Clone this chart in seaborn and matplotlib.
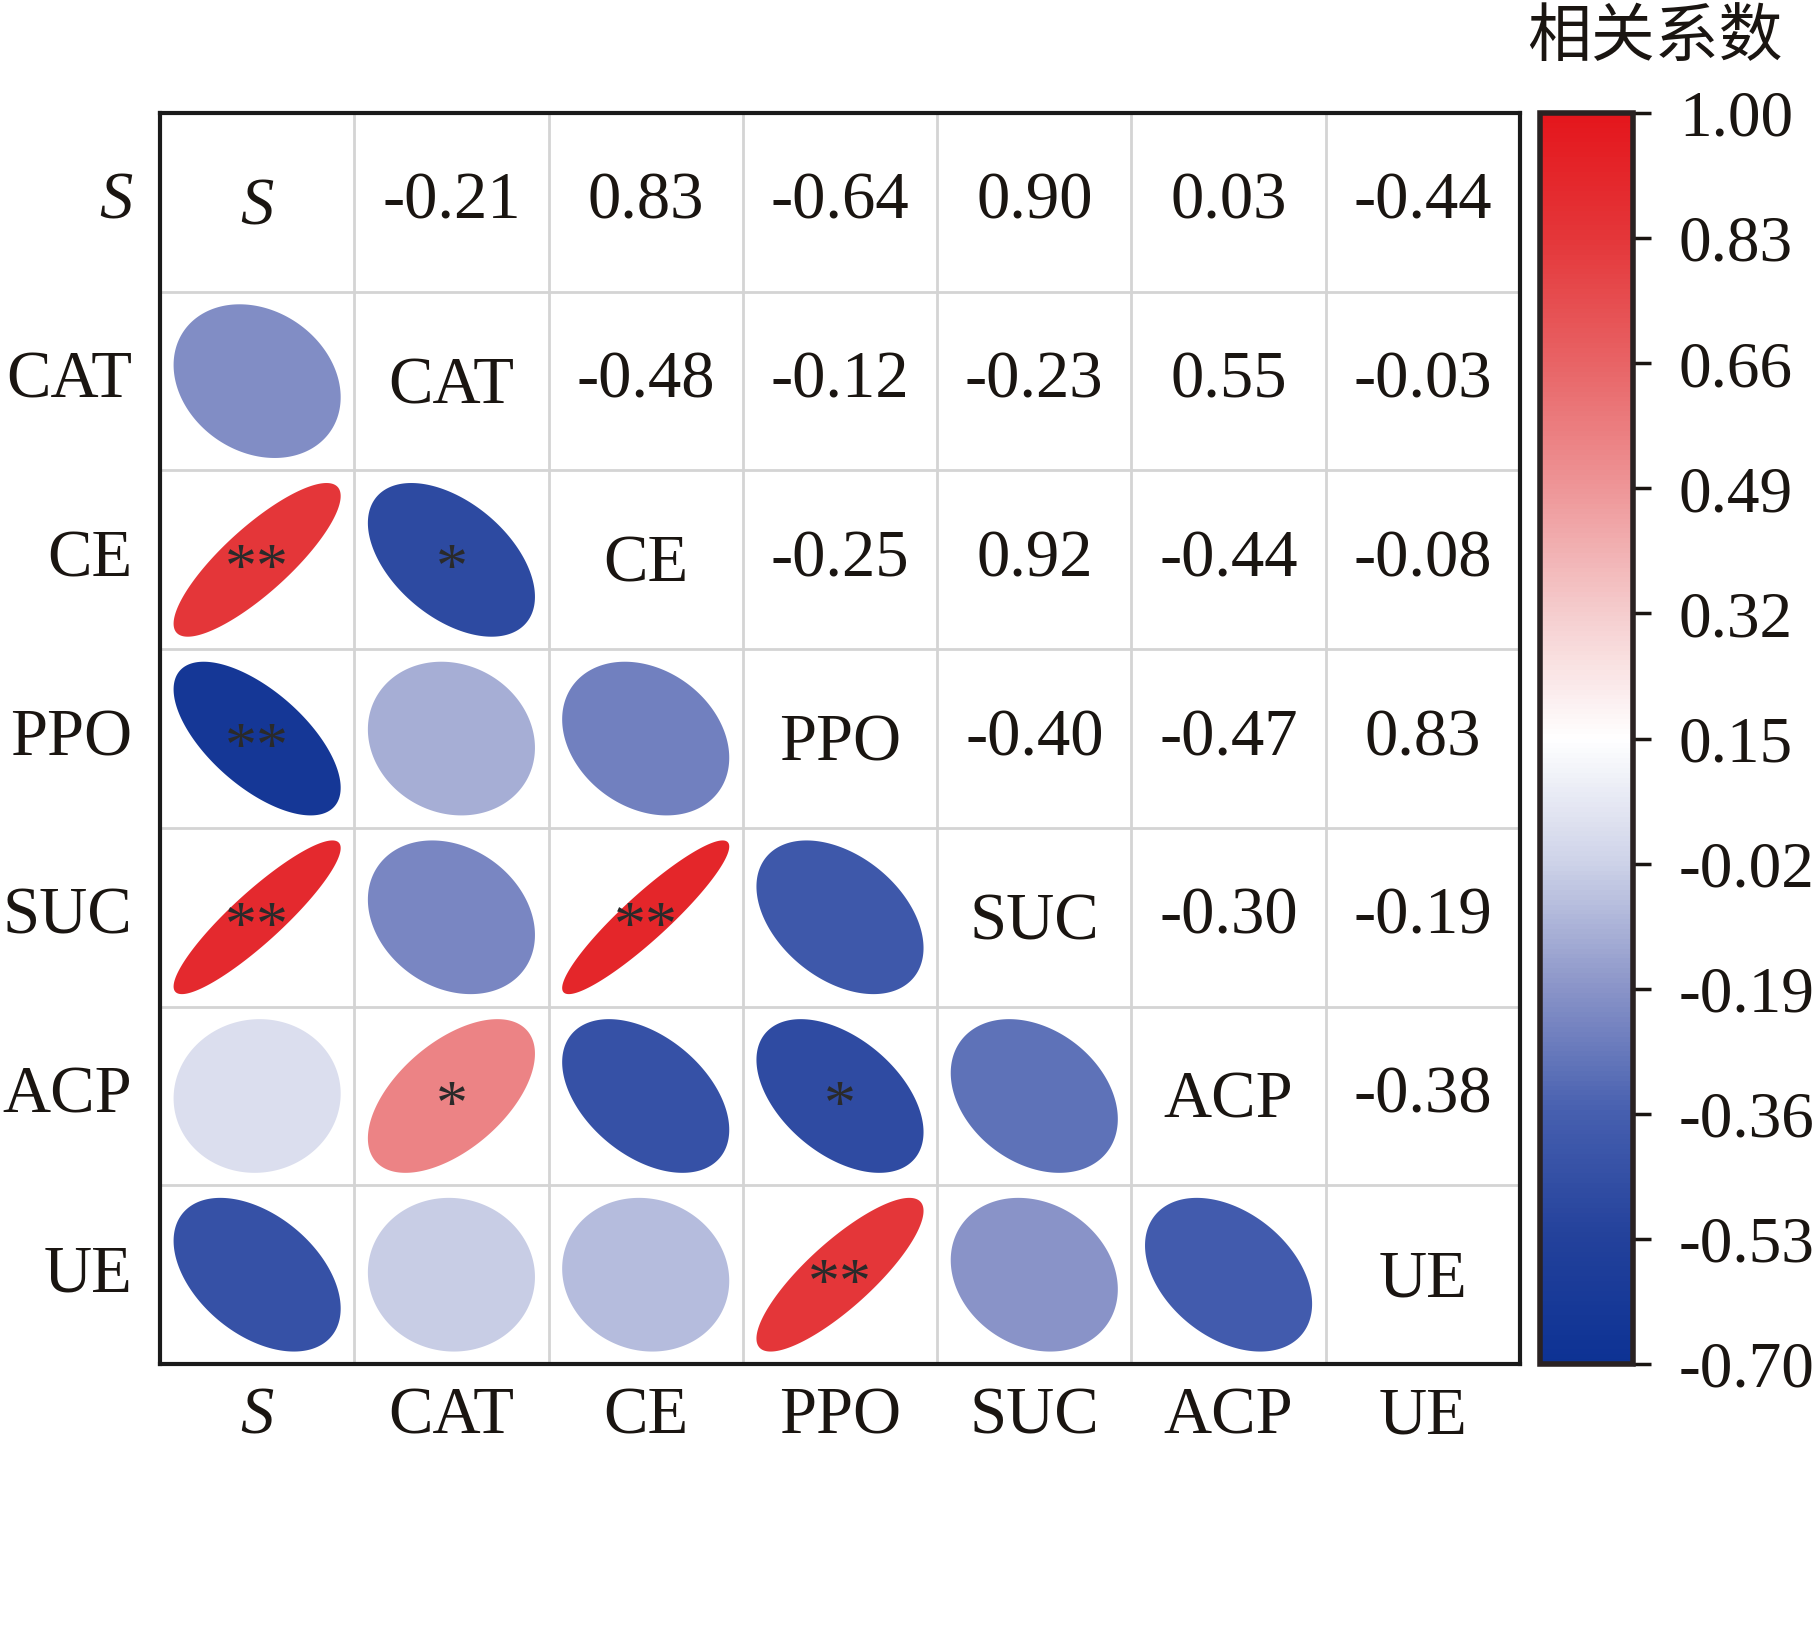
import numpy as np
import pandas as pd
import matplotlib
matplotlib.use('Agg')
import matplotlib.pyplot as plt
import seaborn as sns
from matplotlib.colors import LinearSegmentedColormap
from matplotlib.patches import Polygon

# variables
labels = ['S', 'CAT', 'CE', 'PPO', 'SUC', 'ACP', 'UE']

# upper triangle of the correlation matrix, row by row
upper = [
    [-0.21, 0.83, -0.64, 0.90, 0.03, -0.44],
    [-0.48, -0.12, -0.23, 0.55, -0.03],
    [-0.25, 0.92, -0.44, -0.08],
    [-0.40, -0.47, 0.83],
    [-0.30, -0.19],
    [-0.38],
]

# significance marks (row, col) in the lower triangle
stars = {(2, 0): '**', (2, 1): '*', (3, 0): '**', (4, 0): '**',
         (4, 2): '**', (5, 1): '*', (5, 3): '*', (6, 3): '**'}

cbar_ticks = [-0.70, -0.53, -0.36, -0.19, -0.02, 0.15, 0.32, 0.49, 0.66, 0.83, 1.00]

n = len(labels)
mat = np.eye(n)
for i, row in enumerate(upper):
    for k, v in enumerate(row):
        j = i + 1 + k
        mat[i, j] = v
        mat[j, i] = v
corr = pd.DataFrame(mat, index=labels, columns=labels)

cmap = LinearSegmentedColormap.from_list('bwr_corr', [
    (0.0, (13/255, 50/255, 148/255)),
    (0.1, (35/255, 65/255, 155/255)),
    (0.2, (70/255, 95/255, 175/255)),
    (0.3, (138/255, 148/255, 200/255)),
    (0.4, (205/255, 210/255, 232/255)),
    (0.5, (1.0, 1.0, 1.0)),
    (0.6, (245/255, 205/255, 206/255)),
    (0.7, (238/255, 150/255, 152/255)),
    (0.8, (232/255, 100/255, 102/255)),
    (0.9, (228/255, 55/255, 58/255)),
    (1.0, (228/255, 22/255, 28/255)),
])
vmin, vmax = -0.70, 1.00

sns.set_style('white')
plt.rcParams['font.family'] = ['Liberation Serif', 'DejaVu Serif']
plt.rcParams['axes.unicode_minus'] = False
txt_color = '#1a1511'

fig = plt.figure(figsize=(18.16, 16.34), dpi=100)
ax = fig.add_axes([0.0881, 0.1652, 0.7489, 0.7656])
cax = fig.add_axes([0.848, 0.1652, 0.0512, 0.7656])

sns.heatmap(corr, mask=np.ones_like(mat, dtype=bool), cmap=cmap, vmin=vmin, vmax=vmax,
            ax=ax, cbar_ax=cax, square=False, xticklabels=labels, yticklabels=labels)

# grid
for k in range(1, n):
    ax.axhline(k, color='#d4d4d4', lw=2, zorder=1)
    ax.axvline(k, color='#d4d4d4', lw=2, zorder=1)
for s in ax.spines.values():
    s.set_visible(True)
    s.set_color('#1a1a1a')
    s.set_linewidth(3)

norm = plt.Normalize(vmin, vmax)
t = np.linspace(0, 2 * np.pi, 200)
half = 0.43
for i in range(n):
    for j in range(n):
        cx, cy = j + 0.5, i + 0.5
        r = mat[i, j]
        if i == j:
            ax.text(cx, cy + 0.03, labels[i], ha='center', va='center', fontsize=48,
                    color=txt_color, style='italic' if labels[i] == 'S' else 'normal')
        elif j > i:
            ax.text(cx, cy, f'{r:.2f}', ha='center', va='center', fontsize=48, color=txt_color)
        else:
            d = np.arccos(r)
            xs = cx + half * np.cos(t + d / 2)
            ys = cy - half * np.cos(t - d / 2)
            ax.add_patch(Polygon(np.column_stack([xs, ys]), closed=True,
                                 facecolor=cmap(norm(r)), edgecolor='none', zorder=2))
            if (i, j) in stars:
                ax.text(cx, cy + 0.07, stars[(i, j)], ha='center', va='center',
                        fontsize=46, color='#2a2a2a', zorder=3)

ax.tick_params(axis='both', length=0, labelsize=48, colors=txt_color)
ax.tick_params(axis='y', pad=20)
ax.tick_params(axis='x', pad=16)
ax.set_yticklabels(labels, rotation=0)
ax.set_xticklabels(labels, rotation=0)
for lab in ax.get_xticklabels() + ax.get_yticklabels():
    if lab.get_text() == 'S':
        lab.set_style('italic')
ax.set_xlabel('')
ax.set_ylabel('')

cbar = ax.collections[0].colorbar
cbar.set_ticks(cbar_ticks)
cbar.set_ticklabels([f'{v:.2f}' for v in cbar_ticks])
cbar.ax.tick_params(length=13, width=2.5, pad=20, labelsize=47, colors=txt_color)
cbar.outline.set_edgecolor('#2a2222')
cbar.outline.set_linewidth(4)

fig.text(0.911, 0.977, '相关系数', ha='center', va='center', fontsize=46,
         color=txt_color, family=['Noto Sans CJK SC', 'DejaVu Sans'])

fig.savefig('out.png', dpi=100, facecolor='white')
